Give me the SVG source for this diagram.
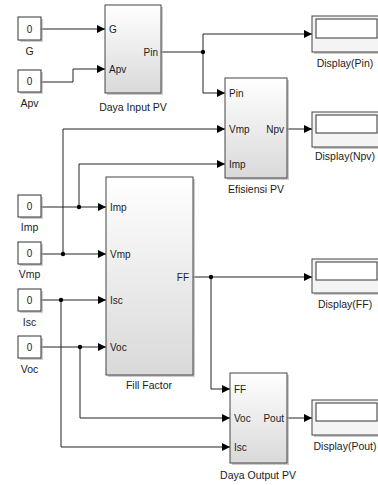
<svg xmlns="http://www.w3.org/2000/svg" width="378" height="485" viewBox="0 0 378 485">
<defs>
<linearGradient id="bg" x1="0" y1="0" x2="0" y2="1">
<stop offset="0" stop-color="#ffffff"/>
<stop offset="1" stop-color="#d9d9d9"/>
</linearGradient>
<marker id="ar" viewBox="0 0 10 10" refX="10" refY="5" markerWidth="10" markerHeight="8" markerUnits="userSpaceOnUse" orient="auto">
<path d="M0,0 L10,5 L0,10 z" fill="#000"/>
</marker>
</defs>
<style>
.blk{fill:url(#bg);stroke:#444;stroke-width:1}
.sh{fill:#aaa;opacity:0.6}
.cst{fill:#fff;stroke:#333;stroke-width:1}
.disp{fill:#f4f4f4;stroke:#444;stroke-width:1}
.din{fill:#fff;stroke:#333;stroke-width:1}
.w{fill:none;stroke:#222;stroke-width:1}
.wa{fill:none;stroke:#222;stroke-width:1;marker-end:url(#ar)}
.dot{fill:#000}
text{font-family:"Liberation Sans",Arial,sans-serif;font-size:10px;fill:#222}
.lbl{font-size:10.5px;text-anchor:middle}
.c{text-anchor:middle}
.r{text-anchor:end}
</style>
<rect width="378" height="485" fill="#fff"/>

<g id="connectors">
<path class="wa" d="M41,29 H105"/>
<path class="wa" d="M41,82 H73 V69 H105"/>
<path class="w" d="M161,52 H203"/>
<path class="wa" d="M203,52 V34 H312"/>
<path class="wa" d="M203,52 V93 H225"/>
<path class="wa" d="M287,129 H312"/>
<path class="wa" d="M41,207 H106"/>
<path class="wa" d="M79,207 V164 H225"/>
<path class="wa" d="M41,254 H106"/>
<path class="wa" d="M63,254 V129 H225"/>
<path class="wa" d="M41,300 H106"/>
<path class="wa" d="M61,300 V447 H230"/>
<path class="wa" d="M41,347 H106"/>
<path class="wa" d="M80,347 V418 H230"/>
<path class="wa" d="M193,277 H312"/>
<path class="wa" d="M211,277 V389 H230"/>
<path class="wa" d="M287,418 H312"/>
<circle class="dot" cx="203" cy="52" r="2.2"/>
<circle class="dot" cx="79" cy="207" r="2.2"/>
<circle class="dot" cx="63" cy="254" r="2.2"/>
<circle class="dot" cx="61" cy="300" r="2.2"/>
<circle class="dot" cx="80" cy="347" r="2.2"/>
<circle class="dot" cx="211" cy="277" r="2.2"/>
</g>

<g id="const-G">
<rect class="sh" x="20" y="19" width="23" height="23"/>
<rect class="cst" x="18" y="17" width="23" height="23"/>
<text class="c" x="29.5" y="32.5">0</text>
<text class="lbl" x="29.5" y="55">G</text>
</g>
<g id="const-Apv">
<rect class="sh" x="20" y="72" width="23" height="22"/>
<rect class="cst" x="18" y="70" width="23" height="22"/>
<text class="c" x="29.5" y="85">0</text>
<text class="lbl" x="29.5" y="107">Apv</text>
</g>
<g id="const-Imp">
<rect class="sh" x="20" y="197" width="23" height="22"/>
<rect class="cst" x="18" y="195" width="23" height="22"/>
<text class="c" x="29.5" y="210">0</text>
<text class="lbl" x="29.5" y="231">Imp</text>
</g>
<g id="const-Vmp">
<rect class="sh" x="20" y="244" width="23" height="22"/>
<rect class="cst" x="18" y="242" width="23" height="22"/>
<text class="c" x="29.5" y="257">0</text>
<text class="lbl" x="29.5" y="278">Vmp</text>
</g>
<g id="const-Isc">
<rect class="sh" x="20" y="291" width="23" height="22"/>
<rect class="cst" x="18" y="289" width="23" height="22"/>
<text class="c" x="29.5" y="304">0</text>
<text class="lbl" x="29.5" y="326">Isc</text>
</g>
<g id="const-Voc">
<rect class="sh" x="20" y="338" width="23" height="22"/>
<rect class="cst" x="18" y="336" width="23" height="22"/>
<text class="c" x="29.5" y="351">0</text>
<text class="lbl" x="29.5" y="373">Voc</text>
</g>

<g id="daya-input-pv">
<rect class="sh" x="107" y="7" width="56" height="88"/>
<rect class="blk" x="105" y="5" width="56" height="88"/>
<text x="109" y="32.5">G</text>
<text x="109" y="72.5">Apv</text>
<text class="r" x="158" y="55.5">Pin</text>
<text class="lbl" x="133" y="111">Daya Input PV</text>
</g>

<g id="efisiensi-pv">
<rect class="sh" x="227" y="80" width="62" height="100"/>
<rect class="blk" x="225" y="78" width="62" height="100"/>
<text x="229" y="96.5">Pin</text>
<text x="229" y="132.5">Vmp</text>
<text x="229" y="167.5">Imp</text>
<text class="r" x="284" y="132.5">Npv</text>
<text class="lbl" x="256" y="193">Efisiensi PV</text>
</g>

<g id="fill-factor">
<rect class="sh" x="108" y="179" width="87" height="198"/>
<rect class="blk" x="106" y="177" width="87" height="198"/>
<text x="110" y="210.5">Imp</text>
<text x="110" y="257.5">Vmp</text>
<text x="110" y="303.5">Isc</text>
<text x="110" y="350.5">Voc</text>
<text class="r" x="189" y="280.5">FF</text>
<text class="lbl" x="149" y="389">Fill Factor</text>
</g>

<g id="daya-output-pv">
<rect class="sh" x="232" y="375" width="57" height="90"/>
<rect class="blk" x="230" y="373" width="57" height="90"/>
<text x="234" y="392.5">FF</text>
<text x="234" y="421.5">Voc</text>
<text x="234" y="450.5">Isc</text>
<text class="r" x="284" y="421.5">Pout</text>
<text class="lbl" x="258" y="479">Daya Output PV</text>
</g>

<g id="display-pin">
<rect class="sh" x="314" y="18" width="70" height="36"/>
<rect class="disp" x="312" y="16" width="70" height="36"/>
<rect class="din" x="316" y="19" width="61" height="19"/>
<text class="lbl" x="345" y="67">Display(Pin)</text>
</g>
<g id="display-npv">
<rect class="sh" x="314" y="114" width="70" height="35"/>
<rect class="disp" x="312" y="112" width="70" height="35"/>
<rect class="din" x="316" y="115" width="61" height="18"/>
<text class="lbl" x="345" y="160">Display(Npv)</text>
</g>
<g id="display-ff">
<rect class="sh" x="314" y="261" width="70" height="34"/>
<rect class="disp" x="312" y="259" width="70" height="34"/>
<rect class="din" x="316" y="262" width="61" height="18"/>
<text class="lbl" x="345" y="308">Display(FF)</text>
</g>
<g id="display-pout">
<rect class="sh" x="314" y="402" width="70" height="35"/>
<rect class="disp" x="312" y="400" width="70" height="35"/>
<rect class="din" x="316" y="403" width="61" height="18"/>
<text class="lbl" x="345" y="450">Display(Pout)</text>
</g>
</svg>
